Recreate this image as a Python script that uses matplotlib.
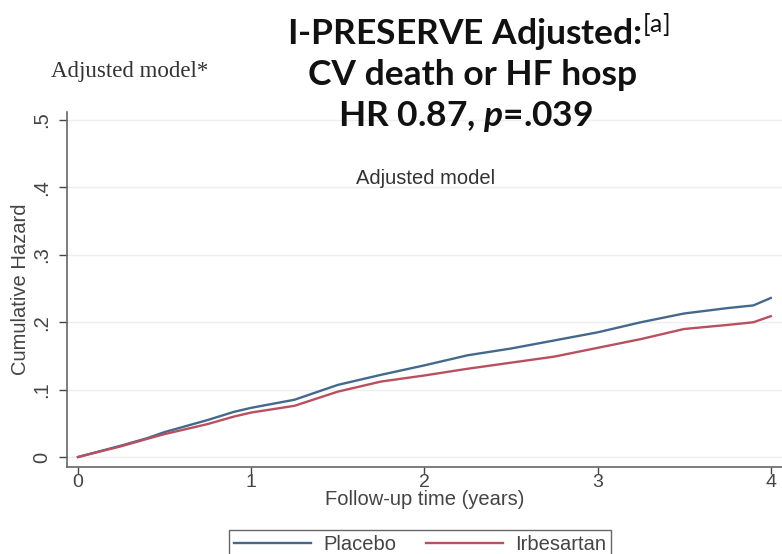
import numpy as np
import matplotlib
matplotlib.use('agg')
from matplotlib import pyplot as plt
from matplotlib import rcParams

rcParams['font.family'] = 'Liberation Sans'
rcParams['mathtext.fontset'] = 'custom'
rcParams['mathtext.rm'] = 'Lato'
rcParams['mathtext.it'] = 'Lato:bold:italic'

# cumulative hazard read at follow-up times (years)
years = [0, 0.25, 0.4, 0.5, 0.75, 0.9, 1.0, 1.25, 1.5, 1.75,
         2.0, 2.25, 2.5, 2.75, 3.0, 3.25, 3.5, 3.75, 3.9, 4.0]
placebo = [0, 0.017, 0.028, 0.037, 0.055, 0.067, 0.073, 0.085, 0.107, 0.122,
           0.136, 0.151, 0.161, 0.173, 0.185, 0.200, 0.213, 0.221, 0.225, 0.236]
irbesartan = [0, 0.016, 0.027, 0.034, 0.049, 0.060, 0.066, 0.076, 0.097, 0.112,
              0.121, 0.131, 0.140, 0.149, 0.162, 0.175, 0.190, 0.196, 0.200, 0.209]

yticks = [0, 0.1, 0.2, 0.3, 0.4, 0.5]
ytick_labels = ['0', '.1', '.2', '.3', '.4', '.5']
xticks = [0, 1, 2, 3, 4]

W, H = 782, 554
fig = plt.figure(figsize=(W / 100, H / 100), dpi=100)
ax = fig.add_axes([66.7 / W, 87 / H, (W - 66.7) / W, 355 / H])

gray = '#444444'
fs = 14.5
ax.plot(years, placebo, color='#44698c', lw=1.7, label='Placebo')
ax.plot(years, irbesartan, color='#b8505f', lw=1.7, label='Irbesartan')

ax.set_xlim(-0.065, 4.065)
ax.set_ylim(-0.0148, 0.512)
ax.set_yticks(yticks)
ax.set_yticklabels(ytick_labels, rotation=90, va='center')
ax.set_xticks(xticks)
ax.tick_params(colors=gray, labelcolor=gray, labelsize=fs, length=6, width=1)
ax.tick_params(axis='x', pad=0, length=5, labelsize=14)
ax.tick_params(axis='y', pad=5)
ax.grid(axis='y', color='#eeeeee', lw=1)
ax.set_axisbelow(True)
for side in ['top', 'right']:
    ax.spines[side].set_visible(False)
for side in ['left', 'bottom']:
    ax.spines[side].set_color('#666666')
    ax.spines[side].set_linewidth(1.2)

ax.set_xlabel('Follow-up time (years)', color=gray, fontsize=fs, labelpad=-1)
ax.set_ylabel('Cumulative Hazard', color=gray, fontsize=fs, labelpad=2)

ax.text(426 / W, 1 - 178 / H, 'Adjusted model', transform=fig.transFigure,
        ha='center', va='center', color='#333333', fontsize=14.5)

fig.legend(loc='upper center', bbox_to_anchor=(420 / W, 1 - 530 / H), ncol=2,
           fontsize=fs, handlelength=3.8, handletextpad=0.6, columnspacing=1.5,
           fancybox=False, edgecolor='#666666', framealpha=1, borderpad=0.25,
           borderaxespad=0, labelcolor=gray)

# slide title block
fig.text(478 / W, 1 - 32 / H, r'I-PRESERVE Adjusted:$^{\mathrm{[a]}}$', ha='center', va='center',
         family='Lato', weight='bold', fontsize=25.5, color='#111111')
fig.text(473 / W, 1 - 75 / H, 'CV death or HF hosp', ha='center', va='center',
         family='Lato', weight='bold', fontsize=25.5, color='#111111')
fig.text(466 / W, 1 - 117 / H, r'HR 0.87, $\mathit{p}$=.039', ha='center', va='center',
         family='Lato', weight='bold', fontsize=25.5, color='#111111')
fig.text(130 / W, 1 - 72 / H, 'Adjusted model*', ha='center', va='center',
         family='Liberation Serif', fontsize=16.5, color='#333333')

fig.savefig('out.png', dpi=100)
